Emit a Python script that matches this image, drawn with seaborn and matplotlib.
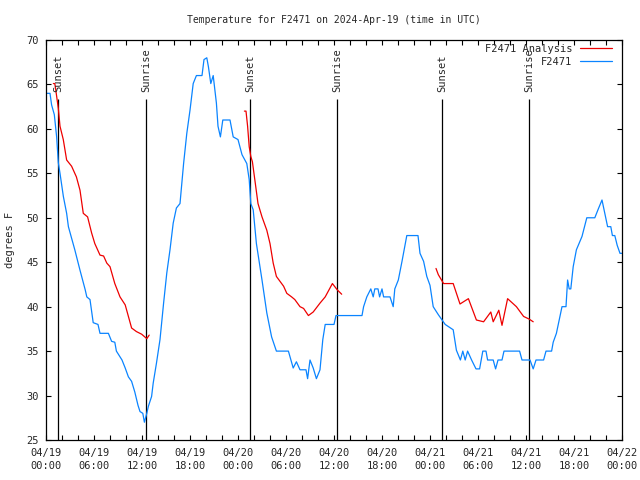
import numpy as np
import pandas as pd
import matplotlib
matplotlib.use('Agg')
import matplotlib.pyplot as plt
import seaborn as sns

# hours since 2024-04-19 00:00 UTC
obs_hours = [0.0, 0.5, 0.7, 1.04, 1.33, 1.54, 1.75, 2.17, 2.58, 2.8, 3.2, 3.6, 4.25, 4.9, 5.1, 5.5,
             5.9, 6.5, 6.75, 7.8, 8.2, 8.6, 8.8, 9.5, 9.9, 10.3, 10.7, 11.1, 11.5, 11.75, 12.1, 12.3,
             12.6, 12.8, 13.2, 13.4, 13.8, 14.25, 14.7, 15.1, 15.5, 15.9, 16.3, 16.75, 17.2, 17.6,
             18.0, 18.4, 18.8, 19.5, 19.75, 20.1, 20.3, 20.6, 20.9, 21.3, 21.5, 21.8, 22.1, 23.0,
             23.4, 24.0, 24.5, 25.1, 25.4, 25.6, 25.9, 26.3, 27.0, 27.6, 28.2, 28.8, 30.3, 30.9,
             31.3, 31.75, 32.5, 32.7, 33.0, 33.4, 33.8, 34.25, 34.6, 34.9, 36.0, 36.25, 39.5, 39.7,
             40.1, 40.6, 40.9, 41.1, 41.5, 41.7, 42.0, 42.2, 43.0, 43.4, 43.6, 44.04, 44.5, 45.1,
             46.5, 46.75, 47.2, 47.6, 48.0, 48.4, 49.04, 49.9, 50.9, 51.3, 51.8, 52.1, 52.4, 52.7,
             53.2, 53.75, 54.2, 54.6, 55.0, 55.2, 55.9, 56.2, 56.5, 57.0, 57.25, 59.2, 59.5, 60.5,
             60.9, 61.25, 62.2, 62.5, 63.2, 63.4, 63.8, 64.5, 65.0, 65.2, 65.4, 65.6, 65.9, 66.3,
             67.0, 67.6, 68.6, 69.04, 69.5, 70.1, 70.2, 70.6, 70.8, 71.1, 71.4, 71.75, 72.0]
obs_temps = [64, 64, 62.7, 61.6, 59.1, 56.2, 55, 52.4, 50.5, 49, 47.7, 46.4, 44.1, 41.9, 41.1, 40.8,
             38.2, 38, 37, 37, 36.1, 36, 35, 34, 33.1, 32.1, 31.6, 30.4, 28.9, 28.2, 28, 27,
             28, 28.8, 29.9, 31.4, 33.6, 36.3, 40.4, 43.8, 46.4, 49.4, 51.1, 51.6, 56.1, 59.5,
             62.1, 65.1, 66, 66, 67.8, 68, 67, 65.1, 66, 62.9, 60.3, 59.1, 61, 61,
             59.1, 58.8, 57.1, 56.1, 54.3, 51.6, 50.9, 47.1, 43, 39.3, 36.6, 35, 35, 33.1,
             33.8, 32.9, 32.9, 31.9, 34, 33.1, 31.9, 32.9, 36.3, 38, 38, 39, 39, 40,
             41.1, 42, 41.1, 42, 42, 41.1, 42, 41.1, 41.1, 40, 42, 43, 45.1, 48,
             48, 46, 45.1, 43.4, 42.4, 40, 39.1, 38, 37.4, 35.1, 34, 35, 34, 35,
             34, 33, 33, 35, 35, 34, 34, 33, 34, 34, 35, 35, 34, 34,
             33, 34, 34, 35, 35, 36, 37, 40, 40, 43, 42, 42, 44.5, 46.4,
             47.9, 50, 50, 51, 52, 49.4, 49, 49, 48, 48, 46.9, 46, 46]

ana1_hours = [0.92, 1.1, 1.25, 1.54, 1.75, 2.16, 2.58, 3.2, 3.8, 4.25, 4.66, 5.2, 5.7, 6.1, 6.75,
              7.2, 7.6, 8.0, 8.6, 9.25, 9.9, 10.3, 10.7, 11.3, 11.96, 12.6, 12.9]
ana1_temps = [65.1, 65.1, 64.2, 62.3, 60.3, 58.8, 56.5, 55.8, 54.6, 53.1, 50.5, 50.1, 48.3, 47.1, 45.8,
              45.7, 44.9, 44.5, 42.6, 41.1, 40.2, 38.9, 37.6, 37.2, 36.9, 36.4, 36.8]
ana2_hours = [24.8, 25.0, 25.2, 25.4, 25.6, 25.8, 26.1, 26.5, 27.0, 27.6, 28.0, 28.4, 28.8, 29.7,
              30.1, 30.7, 31.1, 31.75, 32.2, 32.8, 33.4, 34.25, 34.9, 35.8, 36.4, 36.96]
ana2_temps = [62, 62, 60.3, 58, 56.9, 56.3, 54.3, 51.6, 50.1, 48.6, 47.1, 44.9, 43.4, 42.3,
              41.5, 41.1, 40.8, 40, 39.8, 39, 39.4, 40.4, 41.1, 42.6, 41.9, 41.4]
ana3_hours = [48.75, 49.04, 49.7, 50.9, 51.75, 52.8, 53.8, 54.7, 55.6, 55.9, 56.6, 57.0, 57.7,
              58.8, 59.7, 60.4, 60.9]
ana3_temps = [44.3, 43.6, 42.6, 42.6, 40.3, 40.9, 38.5, 38.3, 39.4, 38.3, 39.6, 37.9, 40.9,
              40, 38.9, 38.6, 38.3]

sun_hours = [1.53, 12.55, 25.53, 36.42, 49.55, 60.42]
sun_labels = ['Sunset', 'Sunrise', 'Sunset', 'Sunrise', 'Sunset', 'Sunrise']

tick_hours = list(range(0, 73, 6))
tick_labels = ['04/19\n00:00', '04/19\n06:00', '04/19\n12:00', '04/19\n18:00',
               '04/20\n00:00', '04/20\n06:00', '04/20\n12:00', '04/20\n18:00',
               '04/21\n00:00', '04/21\n06:00', '04/21\n12:00', '04/21\n18:00',
               '04/22\n00:00']

sns.set_style('ticks')
plt.rcParams['font.family'] = ['DejaVu Sans Mono']
plt.rcParams['font.size'] = 7

fig = plt.figure(figsize=(6.4, 4.8), dpi=100)
ax = fig.add_axes([46 / 640, 40 / 480, 576 / 640, 400 / 480])

red = '#ee0000'
blue = '#0a84ff'
for hrs, tmp in [(ana1_hours, ana1_temps), (ana2_hours, ana2_temps), (ana3_hours, ana3_temps)]:
    sns.lineplot(x=hrs, y=tmp, color=red, linewidth=0.9, sort=False, estimator=None, ax=ax)
sns.lineplot(x=obs_hours, y=obs_temps, color=blue, linewidth=0.9, sort=False, estimator=None, ax=ax)

ax.vlines(sun_hours, 25, 63.4, color='black', linewidth=0.9, zorder=1)
for h, lab in zip(sun_hours, sun_labels):
    ax.text(h, 64.1, lab, rotation=90, ha='center', va='bottom', fontsize=7.5)

ax.set_xlim(0, 72)
ax.set_ylim(25, 70)
ax.set_xticks(tick_hours)
ax.set_xticklabels(tick_labels, linespacing=1.3)
ax.set_xticks(range(0, 73, 2), minor=True)
ax.set_yticks(range(25, 71, 5))
ax.tick_params(axis='both', which='both', direction='in', length=3.5, width=0.8,
               top=True, right=True, labelsize=7.5, color='black')
ax.tick_params(axis='x', which='both', pad=6)
ax.tick_params(axis='y', pad=5)
for sp in ax.spines.values():
    sp.set_visible(True)
    sp.set_linewidth(0.9)
    sp.set_color('black')

ax.set_title('Temperature for F2471 on 2024-Apr-19 (time in UTC)', fontsize=7, pad=12)
ax.set_xlabel('')
ax.set_ylabel('degrees F', fontsize=7.5)
ax.yaxis.set_label_coords(-0.054, 0.5)

h1 = plt.Line2D([], [], color=red, linewidth=0.9)
h2 = plt.Line2D([], [], color=blue, linewidth=0.9)
ax.legend([h1, h2], ['F2471 Analysis', 'F2471'], loc='upper right',
          bbox_to_anchor=(0.982, 0.99), frameon=False, markerfirst=False,
          handlelength=3.0, handletextpad=0.8, labelspacing=0.3, borderpad=0,
          borderaxespad=0, fontsize=7.5)

fig.savefig('out.png', dpi=100)
